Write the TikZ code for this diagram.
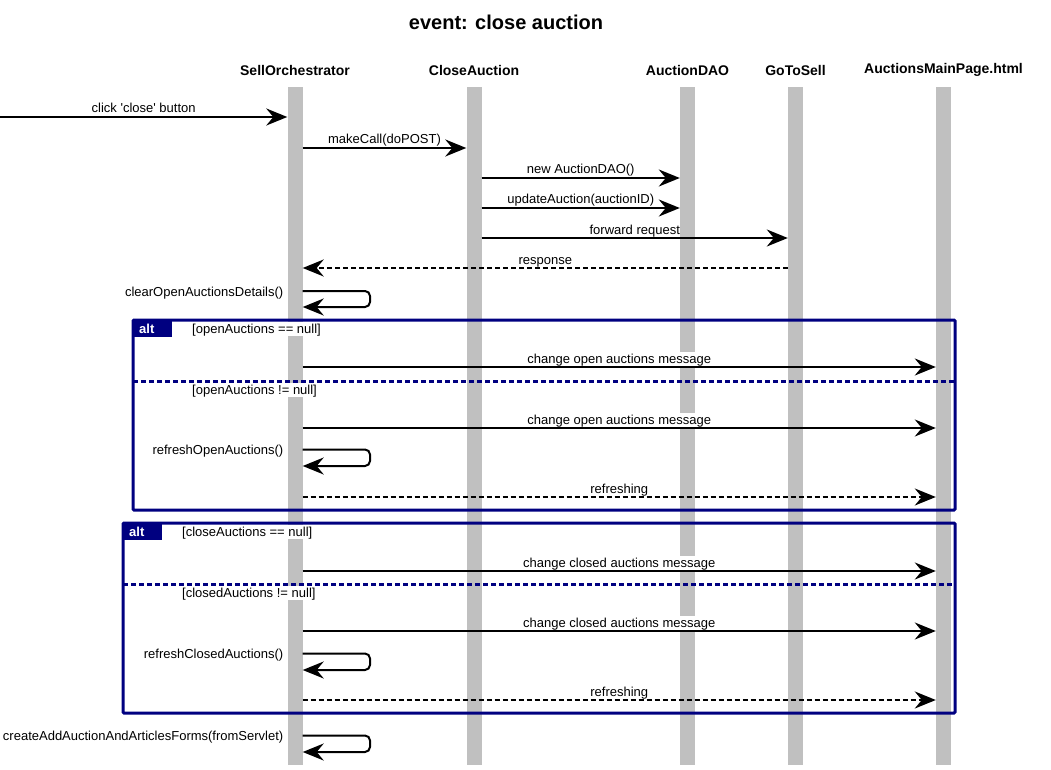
\documentclass[tikz,border=0pt]{standalone}
\usepackage{fontspec}
\setmainfont{Liberation Sans}
\usetikzlibrary{arrows.meta}
\definecolor{lifegray}{RGB}{192,192,192}
\definecolor{framenavy}{RGB}{0,0,128}
\tikzset{
  lifeline/.style={rectangle, fill=lifegray, draw=none, inner sep=0pt, minimum width=15pt, minimum height=678pt},
  head/.style={font=\fontsize{14}{16}\selectfont\bfseries},
  titletext/.style={font=\fontsize{20}{22}\selectfont\bfseries},
  msg/.style={line width=2pt, -{Stealth[length=21pt,width=17pt,inset=7pt]}},
  reply/.style={msg, dash pattern=on 5pt off 3pt},
  lbl/.style={anchor=base, yshift=4pt, fill=white, inner sep=0pt, text height=11pt, text depth=3pt, font=\fontsize{13}{15}\selectfont},
  selflbl/.style={anchor=base east, inner sep=0pt, font=\fontsize{13}{15}\selectfont},
  guard/.style={anchor=base west, fill=white, inner sep=0pt, text height=11pt, text depth=3pt, font=\fontsize{13}{15}\selectfont},
  altframe/.style={draw=framenavy, line width=3pt, rounded corners=1pt},
  altsep/.style={draw=framenavy, line width=3pt, dash pattern=on 5pt off 3pt},
  alttab/.style={anchor=north west, fill=framenavy, text=white, font=\fontsize{13}{15}\selectfont\bfseries, inner xsep=6pt, inner ysep=0pt, text width=27pt, minimum height=17pt, align=left},
}
\begin{document}
\begin{tikzpicture}[x=1pt,y=-1pt]
        \useasboundingbox (0,0) rectangle (1051,770);
        \node[titletext] (title) at (506,22) {event: close auction};
        %% Lifelines with their heads
        \foreach \n/\x/\txt in {so/295/SellOrchestrator, ca/474/CloseAuction, dao/687.5/AuctionDAO, gts/795.5/GoToSell, amp/943.5/AuctionsMainPage.html}{
            \node[lifeline] (\n) at (\x,426) {};
            \node[head] (\n-head) at (\x,70) {\txt};
        }
        %% Calls before the alternatives
        \coordinate (user) at (0,117);
        \draw[msg] (user) -- node[lbl] (m1) {click \textquotesingle close\textquotesingle{} button} (so.west |- user);
        \draw[msg] (so.east |- 0,148) -- node[lbl] (m2) {makeCall(doPOST)} (ca.west |- 0,148);
        \draw[msg] (ca.east |- 0,178) -- node[lbl] (m3) {new AuctionDAO()} (dao.west |- 0,178);
        \draw[msg] (ca.east |- 0,208) -- node[lbl] (m4) {updateAuction(auctionID)} (dao.west |- 0,208);
        \draw[msg] (ca.east |- 0,238) -- node[lbl] (m5) {forward request} (gts.west |- 0,238);
        \draw[reply] (gts.west |- 0,268) -- node[lbl] (m6) {response} (so.east |- 0,268);
        \node[selflbl] (s7) at (283.5,296) {clearOpenAuctionsDetails()};
        \draw[msg, rounded corners=5pt] (so.east |- 0,291) -- (370,291) -- (370,307) -- (so.east |- 0,307);
        %% First alt: open auctions
        \node[guard] (g1) at (192,333) {[openAuctions == null]};
        \draw[msg] (so.east |- 0,367) -- node[lbl] (m8) {change open auctions message} (amp.west |- 0,367);
        \node[guard] (g2) at (192,394) {[openAuctions != null]};
        \draw[msg] (so.east |- 0,428) -- node[lbl] (m9) {change open auctions message} (amp.west |- 0,428);
        \node[selflbl] (s10) at (283.5,454.5) {refreshOpenAuctions()};
        \draw[msg, rounded corners=5pt] (so.east |- 0,449.5) -- (370,449.5) -- (370,466) -- (so.east |- 0,466);
        \draw[reply] (so.east |- 0,497) -- node[lbl] (m11) {refreshing} (amp.west |- 0,497);
        %% Second alt: closed auctions
        \node[guard] (g3) at (182,536) {[closeAuctions == null]};
        \draw[msg] (so.east |- 0,571) -- node[lbl] (m12) {change closed auctions message} (amp.west |- 0,571);
        \node[guard] (g4) at (182,597) {[closedAuctions != null]};
        \draw[msg] (so.east |- 0,631) -- node[lbl] (m13) {change closed auctions message} (amp.west |- 0,631);
        \node[selflbl] (s14) at (283.5,658.5) {refreshClosedAuctions()};
        \draw[msg, rounded corners=5pt] (so.east |- 0,653.5) -- (370,653.5) -- (370,670) -- (so.east |- 0,670);
        \draw[reply] (so.east |- 0,700) -- node[lbl] (m15) {refreshing} (amp.west |- 0,700);
        %% Last call
        \node[selflbl] (s16) at (283.5,740.5) {createAddAuctionAndArticlesForms(fromServlet)};
        \draw[msg, rounded corners=5pt] (so.east |- 0,735.5) -- (370,735.5) -- (370,752) -- (so.east |- 0,752);
        %% Frames
        \draw[altframe] (133,320) rectangle (955,510);
        \node[alttab] (alt1) at (133,320) {alt};
        \draw[altsep] (133,381) -- (955,381);
        \draw[altframe] (123,523) rectangle (955,713);
        \node[alttab] (alt2) at (123,523) {alt};
        \draw[altsep] (123,584) -- (955,584);
    \end{tikzpicture}
\end{document}
